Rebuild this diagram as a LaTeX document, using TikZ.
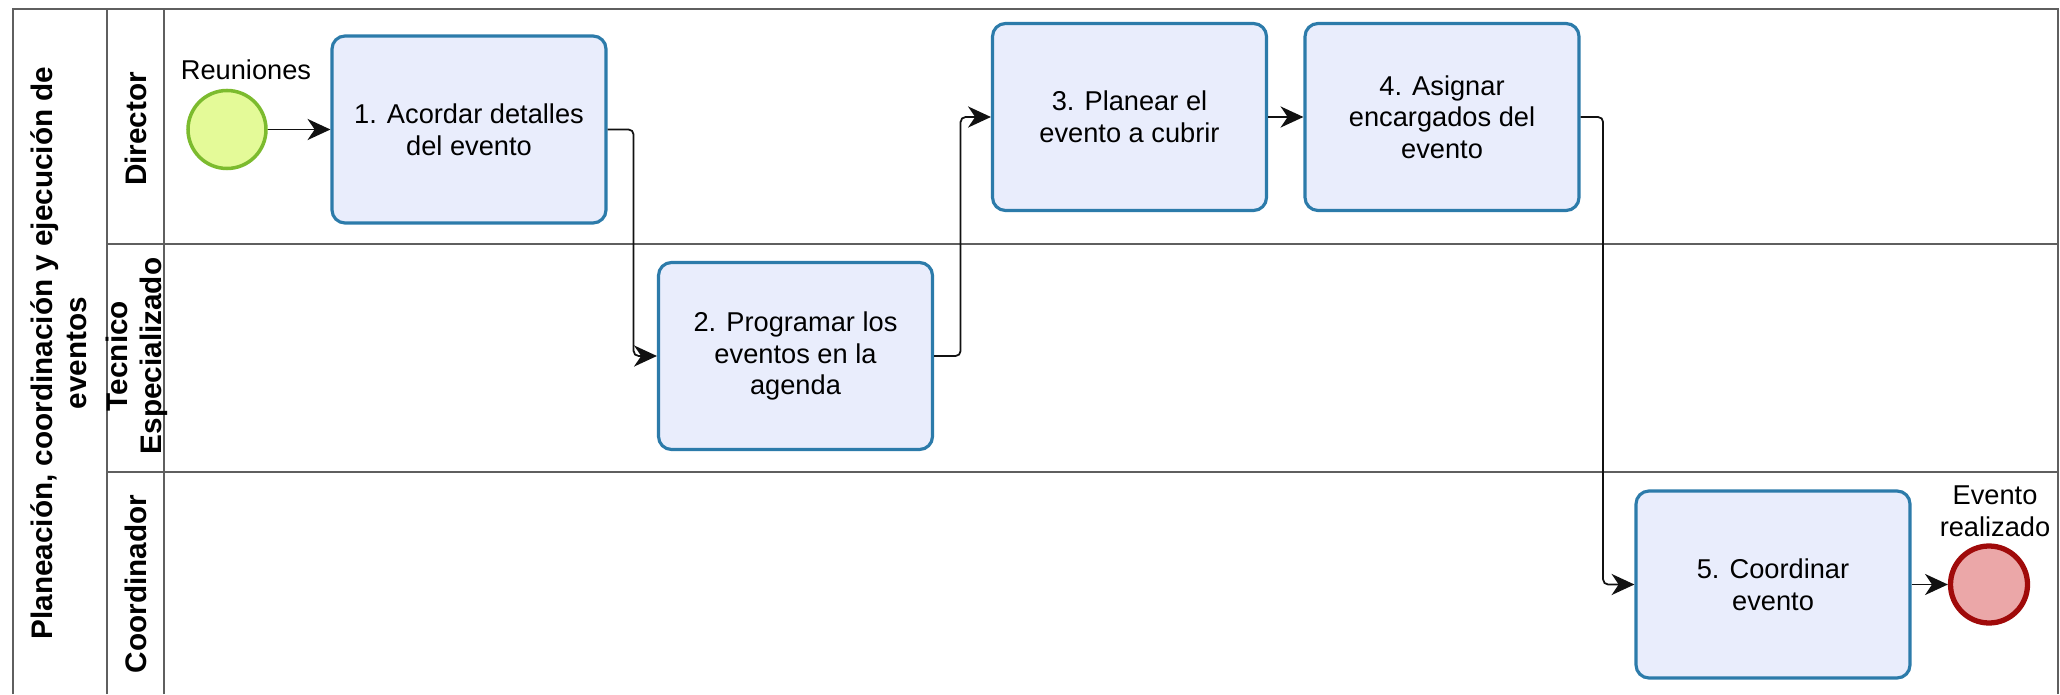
\documentclass[tikz,border=0pt]{standalone}
\usepackage{fontspec}
\setmainfont{Liberation Sans}
\usepackage{tikz}
\usetikzlibrary{arrows.meta, calc}

\definecolor{taskfill}{HTML}{E9EDFC}
\definecolor{taskline}{HTML}{2C7BAA}
\definecolor{startfill}{HTML}{E4FA98}
\definecolor{startline}{HTML}{7CBB2E}
\definecolor{endfill}{HTML}{EBA7A8}
\definecolor{endline}{HTML}{A00A0A}
\definecolor{laneline}{HTML}{5F5F5F}
\definecolor{flowline}{HTML}{111111}

\begin{document}
\begin{tikzpicture}[>={Stealth[length=13pt, width=12pt, inset=4pt]},
  task/.style={draw=taskline, fill=taskfill, line width=1.8pt, rounded corners=0.26cm,
    minimum width=5.48cm, minimum height=3.74cm, align=center,
    font=\fontsize{15.5}{18}\selectfont},
  startev/.style={circle, draw=startline, fill=startfill, line width=2pt,
    minimum size=1.56cm, inner sep=0pt},
  endev/.style={circle, draw=endline, fill=endfill, line width=3pt,
    minimum size=1.54cm, inner sep=0pt},
  evlabel/.style={align=center, font=\fontsize{15.5}{18}\selectfont},
  lanetitle/.style={rotate=90, align=center, font=\bfseries\fontsize{16.9}{19.5}\selectfont},
  lane/.style={draw=laneline, line width=1pt},
  flow/.style={->, draw=flowline, line width=1pt, rounded corners=0.1cm}]

\useasboundingbox (0,0) rectangle (41.2,13.88);


\draw[lane] (0.26,0) -- (0.26,13.70) -- (41.16,13.70) -- (41.16,0);
\draw[lane] (2.14,0) -- (2.14,13.70);
\draw[lane] (3.28,0) -- (3.28,13.70);
\draw[lane] (2.14,9.00) -- (41.16,9.00);
\draw[lane] (2.14,4.44) -- (41.16,4.44);


\node[lanetitle] (pool) at (1.18,6.82) {Planeación, coordinación y ejecución de\\eventos};
\node[lanetitle] (dir) at (2.71,11.30) {Director};
\node[lanetitle] (tec) at (2.74,6.76) {Tecnico\\Especializado};
\node[lanetitle] (coo) at (2.71,2.20) {Coordinador};


\node[startev] (ini) at (4.54,11.29) {};
\node[evlabel] (iniL) at (4.92,12.48) {Reuniones};

\node[task] (t1) at (9.38,11.29) {1. Acordar detalles\\del evento};
\node[task] (t2) at (15.91,6.76) {2. Programar los\\eventos en la\\agenda};
\node[task] (t3) at (22.59,11.54) {3. Planear el\\evento a cubrir};
\node[task] (t4) at (28.84,11.54) {4. Asignar\\encargados del\\evento};
\node[task] (t5) at (35.46,2.19) {5. Coordinar\\evento};

\node[endev] (fin) at (39.78,2.19) {};
\node[evlabel] (finL) at (39.90,3.66) {Evento\\realizado};


\draw[flow] (ini) -- (t1);
\draw[flow] (t1.east) -- ++(0.52,0) |- (t2.west);
\draw[flow] (t2.east) -- ++(0.53,0) |- (t3.west);
\draw[flow] (t3) -- (t4);
\draw[flow] (t4.east) -- ++(0.45,0) |- (t5.west);
\draw[flow] (t5) -- (fin);

\end{tikzpicture}
\end{document}
